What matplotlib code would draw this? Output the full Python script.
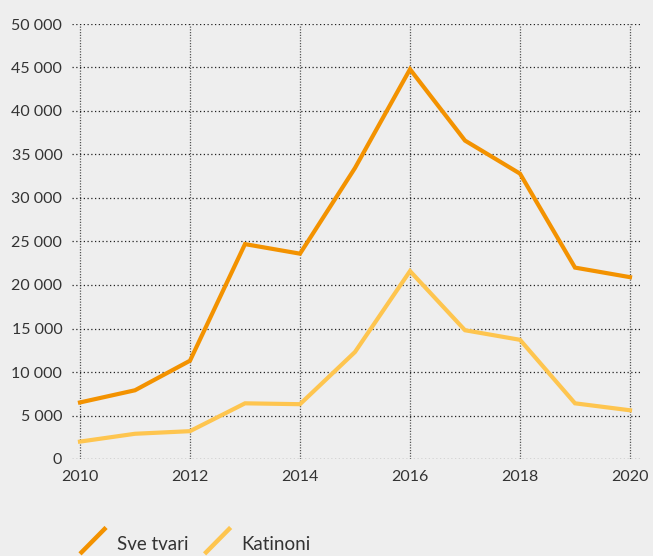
import matplotlib
matplotlib.use("Agg")
import matplotlib.pyplot as plt
from matplotlib.lines import Line2D
from matplotlib.legend_handler import HandlerBase
from matplotlib.ticker import FuncFormatter

years = [2010, 2011, 2012, 2013, 2014, 2015, 2016, 2017, 2018, 2019, 2020]
sve_tvari = [6500, 7900, 11300, 24700, 23600, 33450, 44800, 36600, 32800, 22000, 20900]
katinoni = [2000, 2900, 3200, 6400, 6300, 12300, 21600, 14800, 13700, 6400, 5600]
series_names = ["Sve tvari", "Katinoni"]
colors = ["#f39200", "#fec54f"]

plt.rcParams["font.family"] = ["Lato", "DejaVu Sans"]
bg = "#eeeeee"


class DiagonalHandler(HandlerBase):
    # legend key drawn as a short slanted stroke
    def create_artists(self, legend, orig_handle, xdescent, ydescent,
                       width, height, fontsize, trans):
        cy = height / 2 - ydescent + 2
        half = 9.5
        line = Line2D([-xdescent, -xdescent + width], [cy - half, cy + half],
                      color=orig_handle.get_color(), lw=3.2,
                      solid_capstyle="butt", transform=trans)
        return [line]


fig = plt.figure(figsize=(6.53, 5.56), dpi=100, facecolor=bg)
ax = fig.add_axes([72 / 653, 97 / 556, 570 / 653, 435 / 556], facecolor=bg)

h1, = ax.plot(years, sve_tvari, color=colors[0], lw=3, label=series_names[0],
              solid_joinstyle="miter", zorder=3)
h2, = ax.plot(years, katinoni, color=colors[1], lw=3, label=series_names[1],
              solid_joinstyle="miter", zorder=3)

ax.set_xlim(2010 - 8 / 55, 2020 + 12 / 55)
ax.set_ylim(0, 50000)
ax.set_xticks(range(2010, 2021, 2))
ax.set_yticks(range(0, 50001, 5000))
ax.yaxis.set_major_formatter(FuncFormatter(lambda v, p: f"{v:,.0f}".replace(",", " ")))

for s in ax.spines.values():
    s.set_visible(False)
ax.tick_params(length=0, labelsize=11.5, colors="#333333")
ax.tick_params(axis="y", pad=7)
ax.tick_params(axis="x", pad=8)

ax.grid(axis="y", color="#222222", lw=0.9, linestyle=(0, (1, 2)))
ax.grid(axis="x", color="#555555", lw=0.9, linestyle=(0, (1, 1.2)))
ax.set_axisbelow(True)

fig.legend(handles=[h1, h2], loc="lower left", bbox_to_anchor=(80 / 653, 3 / 556),
           ncol=2, frameon=False, fontsize=13.5, handlelength=1.39, handletextpad=0.59,
           columnspacing=0.85, labelcolor="#333333", borderpad=0, borderaxespad=0,
           handler_map={Line2D: DiagonalHandler()})

fig.savefig("out.png", dpi=100, facecolor=bg)
